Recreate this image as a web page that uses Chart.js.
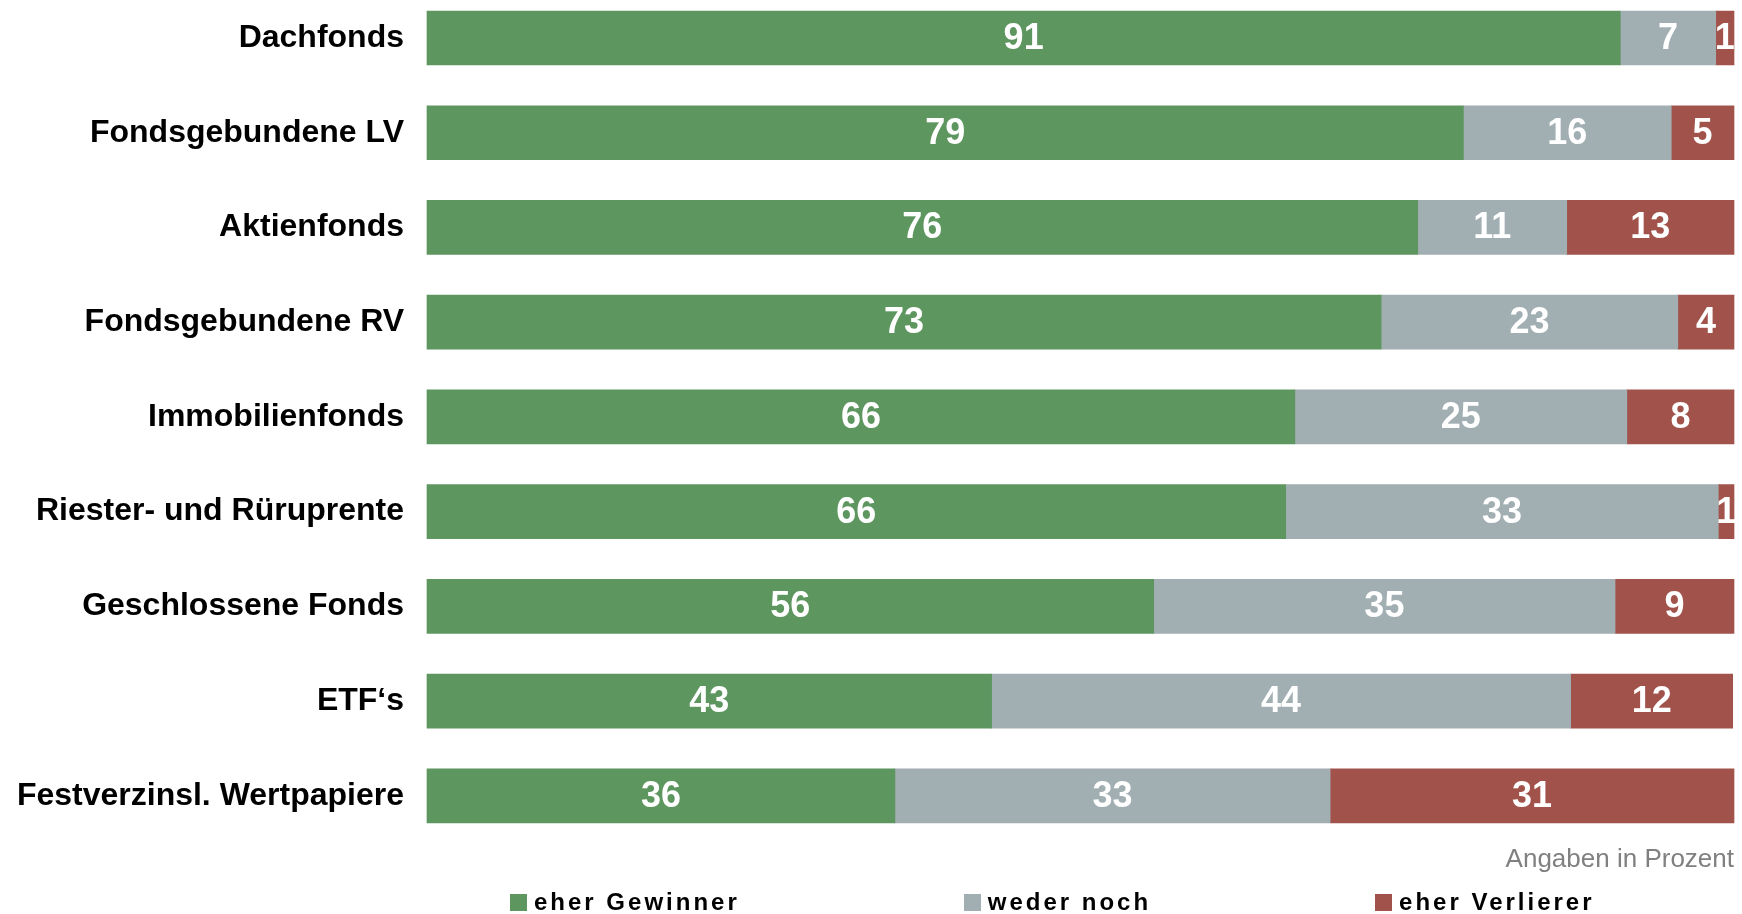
<!DOCTYPE html>
<html lang="de">
<head>
<meta charset="utf-8">
<title>Gewinner und Verlierer</title>
<script src="https://cdn.jsdelivr.net/npm/chart.js@4/dist/chart.umd.min.js"></script>
<style>
    body { margin: 0; background: #fff; }
    #wrap { position: relative; width: 1742px; height: 914px; }
    #legend {
        position: absolute; left: 510px; top: 891px;
        display: flex; gap: 224px;
        font: bold 24px 'Liberation Sans', Arial, sans-serif;
        letter-spacing: 3px; color: #000;
    }
    #legend .item { display: flex; align-items: center; line-height: 22px; }
    #legend .box { width: 17px; height: 17px; margin-right: 7px; }
</style>
</head>
<body>
<div id="wrap">
    <canvas id="chart"></canvas>
    <div id="legend"></div>
</div>
<script>
const categories = ['Dachfonds', 'Fondsgebundene LV', 'Aktienfonds', 'Fondsgebundene RV', 'Immobilienfonds',
    'Riester- und Rüruprente', 'Geschlossene Fonds', 'ETF‘s', 'Festverzinsl. Wertpapiere'];

const eherGewinner = [91.3, 79.3, 75.8, 73.0, 66.4, 65.7, 55.6, 43.2, 35.8];
const wederNoch = [7.3, 15.9, 11.4, 22.7, 25.4, 33.1, 35.3, 44.3, 33.3];
const eherVerlierer = [1.4, 4.8, 12.8, 4.3, 8.2, 1.2, 9.1, 12.4, 30.9];

const seriesNames = ['eher Gewinner', 'weder noch', 'eher Verlierer'];
const colors = ['#5e965f', '#a1aeb2', '#a1524a'];

// Zahlen in den Balken //
const valueLabels = {
    id: 'valueLabels',
    afterDatasetsDraw(chart) {
        const ctx = chart.ctx;
        ctx.save();
        ctx.font = "bold 36px 'Liberation Sans', Arial, sans-serif";
        ctx.fillStyle = '#fff';
        ctx.textAlign = 'center';
        ctx.textBaseline = 'middle';
        chart.data.datasets.forEach((ds, i) => {
            chart.getDatasetMeta(i).data.forEach((bar, j) => {
                const p = bar.getProps(['x', 'base', 'y'], true);
                ctx.fillText(String(Math.round(ds.data[j])), (p.x + p.base) / 2, p.y + 1);
            });
        });
        ctx.restore();
    }
};

// Legende als HTML //
const htmlLegend = {
    id: 'htmlLegend',
    afterUpdate(chart) {
        const box = document.querySelector('#legend');
        box.innerHTML = '';
        chart.data.datasets.forEach(ds => {
            const item = document.createElement('div');
            item.className = 'item';
            const sq = document.createElement('span');
            sq.className = 'box';
            sq.style.background = ds.backgroundColor;
            const txt = document.createElement('span');
            txt.textContent = ds.label;
            item.appendChild(sq);
            item.appendChild(txt);
            box.appendChild(item);
        });
    }
};

const chart = document.querySelector('#chart').getContext('2d');

new Chart(chart, {
    type: 'bar',
    data: {
        labels: categories,
        datasets: [
            { label: seriesNames[0], data: eherGewinner, backgroundColor: colors[0] },
            { label: seriesNames[1], data: wederNoch, backgroundColor: colors[1] },
            { label: seriesNames[2], data: eherVerlierer, backgroundColor: colors[2] }
        ]
    },
    options: {
        indexAxis: 'y',
        responsive: true,
        maintainAspectRatio: false,
        animation: false,
        datasets: {
            bar: { barThickness: 54, borderWidth: 0, clip: false }
        },
        layout: { padding: { top: 38, right: 8, left: 0, bottom: 0 } },
        scales: {
            x: { stacked: true, min: 0, max: 100, display: false },
            y: {
                stacked: true,
                offset: false,
                grid: { display: false, drawTicks: false },
                border: { display: false },
                ticks: {
                    color: '#000',
                    padding: 23,
                    font: { family: "'Liberation Sans', Arial, sans-serif", size: 32, weight: 'bold' }
                },
                afterFit(scale) {
                    scale.width = 427;
                    scale.paddingTop = 0;
                    scale.paddingBottom = 0;
                }
            }
        },
        plugins: {
            legend: { display: false },
            tooltip: { enabled: false },
            title: {
                display: true,
                position: 'bottom',
                align: 'end',
                text: 'Angaben in Prozent',
                color: '#808080',
                font: { family: "'Liberation Sans', Arial, sans-serif", size: 26, weight: 'normal' },
                padding: { top: 48, bottom: 39 }
            }
        }
    },
    plugins: [valueLabels, htmlLegend]
})
</script>
</body>
</html>
